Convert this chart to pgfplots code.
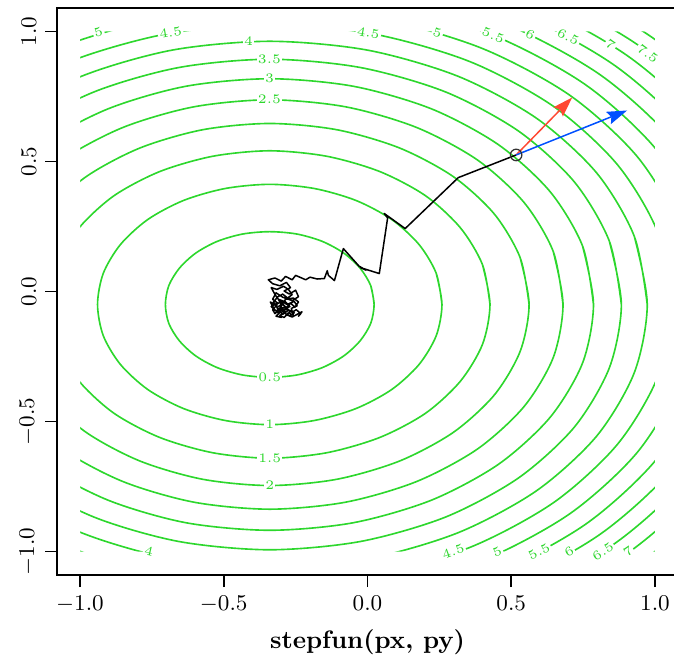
\documentclass[border=0pt]{standalone}
\usepackage{pgfplots}
\pgfplotsset{compat=1.18}
\usetikzlibrary{arrows.meta}

\definecolor{cgreen}{RGB}{45,215,45}
\definecolor{arrred}{RGB}{255,72,50}
\definecolor{arrblue}{RGB}{0,80,255}
\pgfplotsset{
  cline/.style={color=cgreen, line width=0.65pt},
}
\tikzset{
  lab/.style={font=\fontsize{5.2}{6}\selectfont, text=cgreen, fill=white, inner sep=0.5pt},
}

\begin{document}
\begin{tikzpicture}
\useasboundingbox (-22.8pt,-32.4pt) rectangle (246.8pt,230pt);
\begin{axis}[
    at={(0,0)}, anchor=south west,
    scale only axis,
    width=248.4pt,
    height=226.8pt,
    xmin=-1.08, xmax=1.08,
    ymin=-1.09, ymax=1.09,
    axis line style={line width=0.7pt},
    xtick={-1,-0.5,0,0.5,1},
    ytick={-1,-0.5,0,0.5,1},
    xticklabels={$-1.0$,$-0.5$,$0.0$,$0.5$,$1.0$},
    yticklabels={$-1.0$,$-0.5$,$0.0$,$0.5$,$1.0$},
    xtick pos=left, ytick pos=left,
    tick align=outside,
    major tick length=4.8pt,
    tick style={black, line width=0.7pt},
    ticklabel style={font=\fontsize{9}{11}\selectfont},
    yticklabel style={rotate=90, anchor=south},
    xlabel={stepfun(px, py)},
    xlabel style={font=\fontsize{10.1}{12}\selectfont\bfseries},
    axis on top,
]
% contour levels 0.5 ... 8
\addplot[cline, smooth] coordinates {(0.023,-0.05) (0.011,0.023) (-0.026,0.09) (-0.083,0.148) (-0.158,0.193) (-0.246,0.221) (-0.34,0.23) (-0.434,0.221) (-0.522,0.193) (-0.597,0.148) (-0.654,0.09) (-0.691,0.023) (-0.703,-0.05) (-0.691,-0.123) (-0.654,-0.19) (-0.597,-0.248) (-0.522,-0.293) (-0.434,-0.321) (-0.34,-0.33) (-0.246,-0.321) (-0.158,-0.293) (-0.083,-0.248) (-0.026,-0.19) (0.011,-0.123) (0.023,-0.05) (0.011,0.023)};
\addplot[cline, smooth] coordinates {(0.259,-0.05) (0.239,0.070) (0.179,0.181) (0.084,0.277) (-0.040,0.350) (-0.185,0.396) (-0.34,0.412) (-0.495,0.396) (-0.640,0.350) (-0.764,0.277) (-0.859,0.181) (-0.919,0.070) (-0.939,-0.05) (-0.919,-0.170) (-0.859,-0.281) (-0.764,-0.377) (-0.640,-0.450) (-0.495,-0.496) (-0.34,-0.512) (-0.185,-0.496) (-0.040,-0.450) (0.084,-0.377) (0.179,-0.281) (0.239,-0.170) (0.259,-0.05) (0.239,0.070)};
\addplot[cline, smooth] coordinates {(0.426,-0.05) (0.400,0.103) (0.323,0.245) (0.202,0.368) (0.043,0.461) (-0.142,0.520) (-0.34,0.541) (-0.538,0.520) (-0.723,0.461) (-0.882,0.368) (-1.003,0.245) (-1.080,0.103) (-1.106,-0.05) (-1.080,-0.203) (-1.003,-0.345) (-0.882,-0.468) (-0.723,-0.561) (-0.538,-0.620) (-0.34,-0.641) (-0.142,-0.620) (0.043,-0.561) (0.202,-0.468) (0.323,-0.345) (0.400,-0.203) (0.426,-0.05) (0.400,0.103)};
\addplot[cline, smooth] coordinates {(0.562,-0.05) (0.531,0.130) (0.441,0.298) (0.298,0.442) (0.111,0.552) (-0.107,0.622) (-0.34,0.646) (-0.573,0.622) (-0.791,0.552) (-0.978,0.442) (-1.121,0.298) (-1.211,0.130) (-1.242,-0.05) (-1.211,-0.230) (-1.121,-0.398) (-0.978,-0.542) (-0.791,-0.652) (-0.573,-0.722) (-0.34,-0.746) (-0.107,-0.722) (0.111,-0.652) (0.298,-0.542) (0.441,-0.398) (0.531,-0.230) (0.562,-0.05) (0.531,0.130)};
\addplot[cline, smooth] coordinates {(0.680,-0.05) (0.646,0.154) (0.544,0.343) (0.382,0.506) (0.170,0.631) (-0.076,0.710) (-0.34,0.737) (-0.604,0.710) (-0.850,0.631) (-1.062,0.506) (-1.224,0.343) (-1.326,0.154) (-1.360,-0.05) (-1.326,-0.254) (-1.224,-0.443) (-1.062,-0.606) (-0.850,-0.731) (-0.604,-0.810) (-0.34,-0.837) (-0.076,-0.810) (0.170,-0.731) (0.382,-0.606) (0.544,-0.443) (0.646,-0.254) (0.680,-0.05) (0.646,0.154)};
\addplot[cline, smooth] coordinates {(0.786,-0.05) (0.748,0.175) (0.635,0.384) (0.456,0.564) (0.223,0.702) (-0.049,0.789) (-0.34,0.818) (-0.632,0.789) (-0.903,0.702) (-1.136,0.564) (-1.315,0.384) (-1.428,0.175) (-1.466,-0.05) (-1.428,-0.275) (-1.315,-0.484) (-1.136,-0.664) (-0.903,-0.802) (-0.632,-0.889) (-0.34,-0.918) (-0.049,-0.889) (0.223,-0.802) (0.456,-0.664) (0.635,-0.484) (0.748,-0.275) (0.786,-0.05) (0.748,0.175)};
\addplot[cline, smooth] coordinates {(0.883,-0.05) (0.841,0.194) (0.719,0.422) (0.525,0.617) (0.272,0.767) (-0.024,0.861) (-0.34,0.893) (-0.657,0.861) (-0.952,0.767) (-1.205,0.617) (-1.399,0.422) (-1.521,0.194) (-1.563,-0.05) (-1.521,-0.294) (-1.399,-0.522) (-1.205,-0.717) (-0.952,-0.867) (-0.657,-0.961) (-0.34,-0.993) (-0.024,-0.961) (0.272,-0.867) (0.525,-0.717) (0.719,-0.522) (0.841,-0.294) (0.883,-0.05) (0.841,0.194)};
\addplot[cline, smooth] coordinates {(0.973,-0.05) (0.928,0.212) (0.797,0.456) (0.588,0.666) (0.316,0.827) (0.000,0.928) (-0.34,0.962) (-0.680,0.928) (-0.996,0.827) (-1.268,0.666) (-1.477,0.456) (-1.608,0.212) (-1.653,-0.05) (-1.608,-0.312) (-1.477,-0.556) (-1.268,-0.766) (-0.996,-0.927) (-0.680,-1.028) (-0.34,-1.062) (0.000,-1.028) (0.316,-0.927) (0.588,-0.766) (0.797,-0.556) (0.928,-0.312) (0.973,-0.05) (0.928,0.212)};
\addplot[cline, smooth] coordinates {(1.057,-0.05) (1.009,0.229) (0.869,0.488) (0.648,0.711) (0.358,0.883) (0.021,0.990) (-0.34,1.027) (-0.701,0.990) (-1.038,0.883) (-1.328,0.711) (-1.549,0.488) (-1.689,0.229) (-1.737,-0.05) (-1.689,-0.329) (-1.549,-0.588) (-1.328,-0.811) (-1.038,-0.983) (-0.701,-1.090) (-0.34,-1.127) (0.021,-1.090) (0.358,-0.983) (0.648,-0.811) (0.869,-0.588) (1.009,-0.329) (1.057,-0.05) (1.009,0.229)};
\addplot[cline, smooth] coordinates {(1.136,-0.05) (1.085,0.245) (0.938,0.519) (0.703,0.755) (0.398,0.935) (0.042,1.049) (-0.34,1.088) (-0.722,1.049) (-1.078,0.935) (-1.383,0.755) (-1.618,0.519) (-1.765,0.245) (-1.816,-0.05) (-1.765,-0.345) (-1.618,-0.619) (-1.383,-0.855) (-1.078,-1.035) (-0.722,-1.149) (-0.34,-1.188) (0.042,-1.149) (0.398,-1.035) (0.703,-0.855) (0.938,-0.619) (1.085,-0.345) (1.136,-0.05) (1.085,0.245)};
\addplot[cline, smooth] coordinates {(1.211,-0.05) (1.158,0.259) (1.003,0.548) (0.757,0.796) (0.435,0.986) (0.061,1.105) (-0.34,1.146) (-0.741,1.105) (-1.115,0.986) (-1.437,0.796) (-1.683,0.548) (-1.838,0.259) (-1.891,-0.05) (-1.838,-0.359) (-1.683,-0.648) (-1.437,-0.896) (-1.115,-1.086) (-0.741,-1.205) (-0.34,-1.246) (0.061,-1.205) (0.435,-1.086) (0.757,-0.896) (1.003,-0.648) (1.158,-0.359) (1.211,-0.05) (1.158,0.259)};
\addplot[cline, smooth] coordinates {(1.282,-0.05) (1.227,0.274) (1.065,0.576) (0.807,0.835) (0.471,1.033) (0.080,1.158) (-0.34,1.201) (-0.760,1.158) (-1.151,1.033) (-1.487,0.835) (-1.745,0.576) (-1.907,0.274) (-1.962,-0.05) (-1.907,-0.374) (-1.745,-0.676) (-1.487,-0.935) (-1.151,-1.133) (-0.760,-1.258) (-0.34,-1.301) (0.080,-1.258) (0.471,-1.133) (0.807,-0.935) (1.065,-0.676) (1.227,-0.374) (1.282,-0.05) (1.227,0.274)};
\addplot[cline, smooth] coordinates {(1.351,-0.05) (1.293,0.287) (1.124,0.602) (0.856,0.872) (0.506,1.079) (0.098,1.209) (-0.34,1.254) (-0.778,1.209) (-1.186,1.079) (-1.536,0.872) (-1.804,0.602) (-1.973,0.287) (-2.031,-0.05) (-1.973,-0.387) (-1.804,-0.702) (-1.536,-0.972) (-1.186,-1.179) (-0.778,-1.309) (-0.34,-1.354) (0.098,-1.309) (0.506,-1.179) (0.856,-0.972) (1.124,-0.702) (1.293,-0.387) (1.351,-0.05) (1.293,0.287)};
\addplot[cline, smooth] coordinates {(1.417,-0.05) (1.357,0.301) (1.182,0.627) (0.902,0.908) (0.539,1.123) (0.115,1.259) (-0.34,1.305) (-0.795,1.259) (-1.219,1.123) (-1.582,0.908) (-1.862,0.627) (-2.037,0.301) (-2.097,-0.05) (-2.037,-0.401) (-1.862,-0.727) (-1.582,-1.008) (-1.219,-1.223) (-0.795,-1.359) (-0.34,-1.405) (0.115,-1.359) (0.539,-1.223) (0.902,-1.008) (1.182,-0.727) (1.357,-0.401) (1.417,-0.05) (1.357,0.301)};
\addplot[cline, smooth] coordinates {(1.480,-0.05) (1.418,0.313) (1.237,0.652) (0.947,0.943) (0.570,1.166) (0.131,1.306) (-0.34,1.354) (-0.811,1.306) (-1.250,1.166) (-1.627,0.943) (-1.917,0.652) (-2.098,0.313) (-2.160,-0.05) (-2.098,-0.413) (-1.917,-0.752) (-1.627,-1.043) (-1.250,-1.266) (-0.811,-1.406) (-0.34,-1.454) (0.131,-1.406) (0.570,-1.266) (0.947,-1.043) (1.237,-0.752) (1.418,-0.413) (1.480,-0.05) (1.418,0.313)};
\addplot[cline, smooth] coordinates {(1.542,-0.05) (1.478,0.326) (1.290,0.676) (0.991,0.976) (0.601,1.207) (0.147,1.352) (-0.34,1.401) (-0.827,1.352) (-1.281,1.207) (-1.671,0.976) (-1.970,0.676) (-2.158,0.326) (-2.222,-0.05) (-2.158,-0.426) (-1.970,-0.776) (-1.671,-1.076) (-1.281,-1.307) (-0.827,-1.452) (-0.34,-1.501) (0.147,-1.452) (0.601,-1.307) (0.991,-1.076) (1.290,-0.776) (1.478,-0.426) (1.542,-0.05) (1.478,0.326)};
% the contour grid only covers [-1,1]^2
\fill[white, even odd rule] (axis cs:-2,-2) rectangle (axis cs:2,2) (axis cs:-1,-1) rectangle (axis cs:1,1);
% contour labels
\node[lab, rotate=17] at (axis cs:-0.936,0.998) {5};
\node[lab, rotate=10] at (axis cs:-0.685,0.995) {4.5};
\node[lab] at (axis cs:-0.414,0.962) {4};
\node[lab] at (axis cs:-0.341,0.893) {3.5};
\node[lab] at (axis cs:-0.341,0.818) {3};
\node[lab] at (axis cs:-0.341,0.737) {2.5};
\node[lab, rotate=-10] at (axis cs:0.003,0.994) {4.5};
\node[lab, rotate=-17] at (axis cs:0.243,0.995) {5};
\node[lab, rotate=-22] at (axis cs:0.437,0.985) {5.5};
\node[lab, rotate=-25] at (axis cs:0.566,0.988) {6};
\node[lab, rotate=-28] at (axis cs:0.698,0.979) {6.5};
\node[lab, rotate=-34] at (axis cs:0.845,0.948) {7};
\node[lab, rotate=-36] at (axis cs:0.975,0.915) {7.5};
\node[lab] at (axis cs:-0.34,-0.33) {0.5};
\node[lab] at (axis cs:-0.34,-0.512) {1};
\node[lab] at (axis cs:-0.34,-0.641) {1.5};
\node[lab] at (axis cs:-0.34,-0.746) {2};
\node[lab, rotate=-13] at (axis cs:-0.76,-1.0) {4};
\node[lab, rotate=20] at (axis cs:0.298,-1.0) {4.5};
\node[lab, rotate=24] at (axis cs:0.451,-1.0) {5};
\node[lab, rotate=28] at (axis cs:0.597,-1.0) {5.5};
\node[lab, rotate=30] at (axis cs:0.701,-1.0) {6};
\node[lab, rotate=33] at (axis cs:0.819,-1.0) {6.5};
\node[lab, rotate=35] at (axis cs:0.906,-1.0) {7};
% path of the iterates
\addplot[black, line width=0.6pt, line join=round] coordinates {
 (0.517,0.525) (0.316,0.438) (0.131,0.242) (0.058,0.300) (0.070,0.283)
 (0.041,0.069) (-0.025,0.092) (-0.005,0.082) (-0.030,0.098) (-0.084,0.165)
 (-0.115,0.042) (-0.136,0.062) (-0.140,0.080) (-0.150,0.050) (-0.175,0.048)
 (-0.200,0.055) (-0.215,0.045) (-0.225,0.050) (-0.250,0.062) (-0.262,0.045)
 (-0.285,0.058) (-0.300,0.040) (-0.322,0.052) (-0.345,0.045) (-0.330,0.030)
 (-0.305,0.022) (-0.282,0.035) (-0.268,0.015) (-0.290,0.002) (-0.272,-0.010)
 (-0.250,0.005) (-0.240,-0.020) (-0.262,-0.035) (-0.295,-0.022) (-0.318,-0.005)
 (-0.330,-0.030) (-0.312,-0.045) (-0.335,-0.058) (-0.318,-0.075) (-0.300,-0.060)
 (-0.285,-0.080) (-0.305,-0.092) (-0.290,-0.100) (-0.275,-0.082) (-0.258,-0.092)
 (-0.265,-0.065) (-0.245,-0.055) (-0.255,-0.038) (-0.280,-0.050) (-0.298,-0.038)
 (-0.322,-0.052) (-0.338,-0.040) (-0.325,-0.068) (-0.310,-0.082) (-0.292,-0.070)
 (-0.270,-0.058) (-0.285,-0.040) (-0.310,-0.030) (-0.300,-0.050) (-0.315,-0.062)
 (-0.295,-0.088) (-0.275,-0.072) (-0.262,-0.080) (-0.248,-0.070) (-0.232,-0.085)
 (-0.240,-0.095) (-0.228,-0.078) (-0.245,-0.088) (-0.262,-0.098) (-0.280,-0.090)
 (-0.268,-0.075) (-0.290,-0.060) (-0.308,-0.072) (-0.322,-0.085) (-0.330,-0.070)
 (-0.315,-0.052) (-0.328,-0.042) (-0.312,-0.020) (-0.295,-0.010) (-0.278,-0.025)
 (-0.262,-0.012) (-0.275,0.008) (-0.292,0.020) (-0.315,0.008) (-0.335,0.015)
 (-0.320,-0.015) (-0.302,-0.042) (-0.282,-0.062) (-0.268,-0.045) (-0.252,-0.060)
 (-0.240,-0.040) (-0.258,-0.025) (-0.285,-0.030) (-0.305,-0.065) (-0.290,-0.082)
 (-0.270,-0.095) (-0.255,-0.082) (-0.280,-0.068) (-0.300,-0.075) (-0.318,-0.095)
 (-0.298,-0.100)};
% gradient and step arrows
\addplot[arrred, line width=0.6pt, -{Stealth[length=8pt, width=5.2pt, inset=1.2pt]}] coordinates {(0.517,0.525) (0.712,0.746)};
\addplot[arrblue, line width=0.6pt, -{Stealth[length=8pt, width=5.2pt, inset=1.2pt]}] coordinates {(0.517,0.525) (0.903,0.696)};
\addplot[only marks, mark=o, mark size=2.3pt, black!80, mark options={line width=0.5pt}] coordinates {(0.517,0.525)};
\end{axis}
\end{tikzpicture}
\end{document}
